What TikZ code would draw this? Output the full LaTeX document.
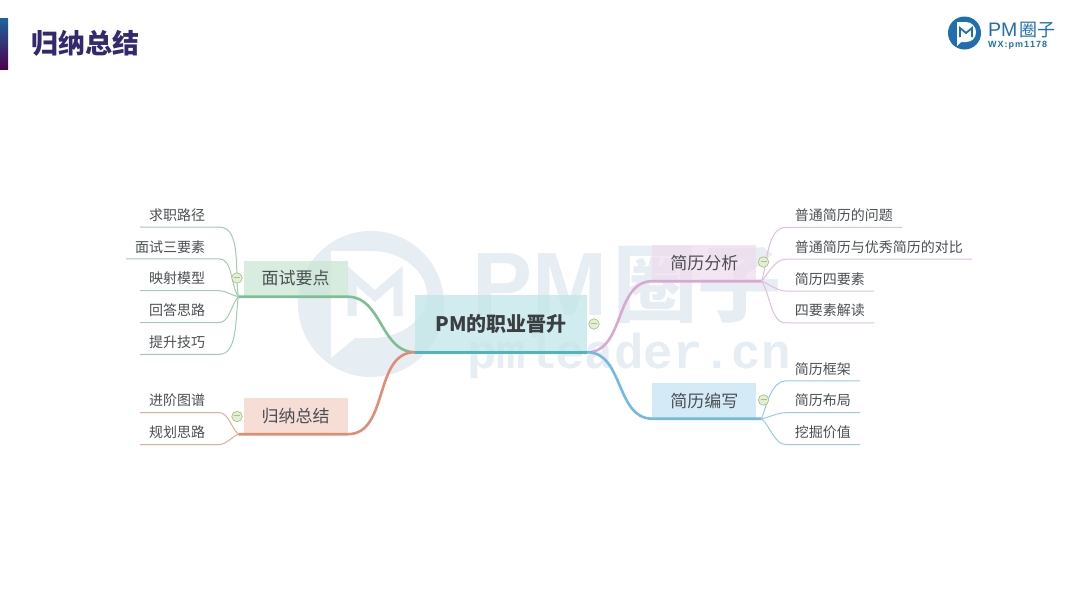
\documentclass[tikz,border=0pt]{standalone}
\usepackage{fontspec}
\setmainfont{Noto Sans CJK SC}
\newfontfamily\logofont{Liberation Sans}
\newfontfamily\markfont{Liberation Mono}
\newfontfamily\cjkfont{Noto Sans CJK SC}
\usetikzlibrary{positioning,shadings}
\definecolor{inkgray}{HTML}{4A4F52}
\definecolor{pale}{HTML}{E6EDF3}
\definecolor{logoblue}{HTML}{1F6FAE}
\definecolor{titlec}{HTML}{34296F}
\definecolor{tealc}{HTML}{4FB5BC}
\definecolor{greenc}{HTML}{7DBE95}
\definecolor{redc}{HTML}{E08D75}
\definecolor{pinkc}{HTML}{D9A8D3}
\definecolor{bluec}{HTML}{74B8E4}
\definecolor{togglec}{HTML}{A9C47F}
\newcommand{\minusbar}{\textcolor{togglec}{\rule[.3ex]{6pt}{.8pt}}}
\tikzset{
  rootbox/.style={minimum width=172pt,minimum height=57pt,inner sep=0pt,fill=tealc!35,fill opacity=.75,text opacity=1,
    text=inkgray!80!black,font=\fontsize{20}{23}\selectfont\bfseries},
  topic/.style={minimum width=104pt,minimum height=36pt,inner sep=0pt,fill=#1!40,fill opacity=.75,text opacity=1,
    text=inkgray,font=\fontsize{17}{20}\selectfont},
  leaf/.style={minimum height=24pt,inner ysep=0pt,inner xsep=9pt,text=inkgray,font=\fontsize{14}{17}\selectfont},
  lleaf/.style={leaf,execute at end node={\hspace{5pt}}},
  limb/.style={draw=#1,line width=2.6pt},
  twig/.style={draw=#1!75,line width=1pt,looseness=.8},
  toggle/.style={circle,draw=togglec,fill=togglec!30,line width=.7pt,minimum size=10.5pt,inner sep=0pt}
}
\begin{document}
\begin{tikzpicture}[x=1pt,y=-1pt]
\useasboundingbox (0,0) rectangle (1080,608);

\shade[top color=logoblue!90!black,bottom color=violet!60!black] (0,18) rectangle (8,69);
\node[anchor=west,inner sep=0pt,text=titlec,font=\fontsize{27}{30}\selectfont\bfseries] (title) at (31,43) {归纳总结};

\fill[logoblue] (964.5,33) circle (16.5pt);
\fill[white] (957,22) -- (966,22) .. controls (972,22) and (976,27) .. (976,32) .. controls (976,38) and (972,42) .. (966,42) -- (961,42) -- (957,46) -- cycle;
\draw[logoblue,line width=1.8pt] (960,37) -- (960,28) -- (966,33) -- (972,28) -- (972,37);
\node[anchor=west,inner sep=0pt,text=logoblue,font=\logofont\fontsize{19.5}{22}\selectfont] (brand) at (988,30) {PM\hspace{2pt}{\cjkfont\fontsize{18}{22}\selectfont 圈子}};
\node[anchor=west,inner sep=0pt,text=logoblue,font=\logofont\fontsize{9}{10}\selectfont\bfseries] (wx) at (988,45) {W\kern1pt X\kern1pt:\kern1pt p\kern1pt m\kern1pt 1\kern1pt 1\kern1pt 7\kern1pt 8};

\fill[pale] (371,304) circle (73pt);
\fill[white] (331,251) -- (372,251) .. controls (402,251) and (427,272) .. (427,295) .. controls (427,318) and (402,338) .. (372,338) -- (355,338) -- (331,358) -- cycle;
\draw[pale,line width=9pt] (352,316) -- (352,276) -- (375,296) -- (398,276) -- (398,316);
\node[anchor=west,inner sep=0pt,text=pale,font=\logofont\fontsize{90}{100}\selectfont\bfseries] (wmark) at (472,285) {PM\hspace{6pt}{\cjkfont\fontsize{84}{100}\selectfont\bfseries 圈子}};
\node[anchor=west,inner sep=0pt,text=pale,font=\markfont\fontsize{49}{50}\selectfont\bfseries] (wsite) at (467,356) {pmleader.cn};

\node[rootbox] (root) at (501,323.5) {PM的职业晋升};

\node[topic=greenc] (k0) [left=67pt of root,yshift=45pt] {面试要点};
\node[topic=redc] (k1) [left=67pt of root,yshift=-92.5pt] {归纳总结};
\node[topic=pinkc] (k2) [right=65pt of root,yshift=60.5pt] {简历分析};
\node[topic=bluec] (k3) [right=65pt of root,yshift=-77pt] {简历编写};

\node[lleaf] (f2) [left=24pt of k0] {映射模型};
\node[lleaf] (f1) [above=7.4pt of f2.north east,anchor=south east] {面试三要素};
\node[lleaf] (f0) [above=7.4pt of f1.north east,anchor=south east] {求职路径};
\node[lleaf] (f3) [below=7.4pt of f2.south east,anchor=north east] {回答思路};
\node[lleaf] (f4) [below=7.4pt of f3.south east,anchor=north east] {提升技巧};

\node[lleaf] (e0) [left=24pt of k1,yshift=15.5pt] {进阶图谱};
\node[lleaf] (e1) [below=7.4pt of e0.south east,anchor=north east] {规划思路};

\node[leaf] (g1) [right=29pt of k2,yshift=16pt] {普通简历与优秀简历的对比};
\node[leaf] (g0) [above=7.4pt of g1.north west,anchor=south west] {普通简历的问题};
\node[leaf] (g2) [below=7.4pt of g1.south west,anchor=north west] {简历四要素};
\node[leaf] (g3) [below=7.4pt of g2.south west,anchor=north west] {四要素解读};

\node[leaf] (h1) [right=29pt of k3] {简历布局};
\node[leaf] (h0) [above=7.4pt of h1.north west,anchor=south west] {简历框架};
\node[leaf] (h2) [below=7.4pt of h1.south west,anchor=north west] {挖掘价值};

\coordinate (kh0) at ([xshift=-5pt]k0.south west);
\coordinate (kh1) at ([xshift=-5pt]k1.south west);
\coordinate (kh2) at ([xshift=5pt]k2.south east);
\coordinate (kh3) at ([xshift=5pt]k3.south east);

\draw[limb=tealc] (root.south west) -- (root.south east);
\draw[limb=greenc] (root.south west) to[out=180,in=0] (k0.south east) -- (kh0);
\draw[limb=redc] (root.south west) to[out=180,in=0] (k1.south east) -- (kh1);
\draw[limb=pinkc] (root.south east) to[out=0,in=180] (k2.south west) -- (kh2);
\draw[limb=bluec] (root.south east) to[out=0,in=180] (k3.south west) -- (kh3);

\draw[twig=greenc] (f0.south west) -- (f0.south east) to[out=0,in=100] (kh0);
\draw[twig=greenc] (f1.south west) -- (f1.south east) to[out=0,in=125] (kh0);
\draw[twig=greenc] (f2.south west) -- (f2.south east) to[out=0,in=170] (kh0);
\draw[twig=greenc] (f3.south west) -- (f3.south east) to[out=0,in=225] (kh0);
\draw[twig=greenc] (f4.south west) -- (f4.south east) to[out=0,in=260] (kh0);

\draw[twig=redc] (e0.south west) -- (e0.south east) to[out=0,in=140] (kh1);
\draw[twig=redc] (e1.south west) -- (e1.south east) to[out=0,in=200] (kh1);

\draw[twig=pinkc] (g0.south east) -- (g0.south west) to[out=180,in=72] (kh2);
\draw[twig=pinkc] (g1.south east) -- (g1.south west) to[out=180,in=50] (kh2);
\draw[twig=pinkc] (g2.south east) -- (g2.south west) to[out=180,in=340] (kh2);
\draw[twig=pinkc] (g3.south east) -- (g3.south west) to[out=180,in=305] (kh2);

\draw[twig=bluec] (h0.south east) -- (h0.south west) to[out=180,in=70] (kh3);
\draw[twig=bluec] (h1.south east) -- (h1.south west) to[out=180,in=10] (kh3);
\draw[twig=bluec] (h2.south east) -- (h2.south west) to[out=180,in=320] (kh3);

\node[toggle] (m0) at (594,324) {\minusbar};
\node[toggle] (m1) at (237,278) {\minusbar};
\node[toggle] (m2) at (237,416.5) {\minusbar};
\node[toggle] (m3) at (763.5,262) {\minusbar};
\node[toggle] (m4) at (763.5,400) {\minusbar};
\end{tikzpicture}
\end{document}
